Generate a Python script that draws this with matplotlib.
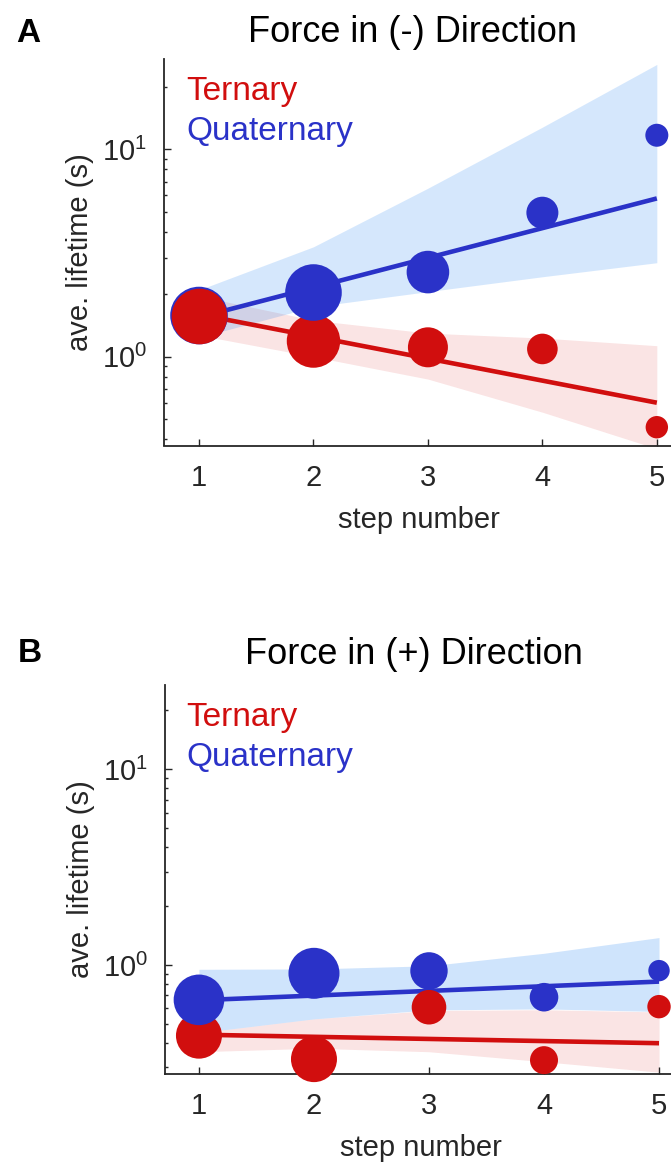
import matplotlib
matplotlib.use("Agg")
import matplotlib.pyplot as plt
from matplotlib.ticker import NullFormatter, FixedLocator

plt.rcParams['font.family'] = ['Liberation Sans', 'DejaVu Sans']

W, H = 671, 1165

steps = [1, 2, 3, 4, 5]
fit_steps = [1, 5]

# force in (-) direction
tern_neg = [1.58, 1.19, 1.11, 1.09, 0.457]
quat_neg = [1.58, 2.04, 2.56, 4.95, 11.7]
tern_neg_fit = [1.60, 0.60]
quat_neg_fit = [1.55, 5.8]
tern_neg_lo = [1.27, 1.00, 0.78, 0.54, 0.36]
tern_neg_hi = [1.96, 1.50, 1.30, 1.23, 1.13]
quat_neg_lo = [1.24, 1.74, 2.06, 2.43, 2.84]
quat_neg_hi = [2.10, 3.39, 6.5, 12.8, 25.7]
tern_neg_r = [27.8, 26.7, 20, 15.3, 11.2]
quat_neg_r = [28.8, 28.3, 21.3, 16, 11.5]

# force in (+) direction
tern_pos = [0.435, 0.33, 0.608, 0.326, 0.612]
quat_pos = [0.663, 0.906, 0.932, 0.684, 0.935]
tern_pos_fit = [0.44, 0.398]
quat_pos_fit = [0.66, 0.822]
tern_pos_lo = [0.36, 0.375, 0.36, 0.32, 0.283]
tern_pos_hi = [0.45, 0.53, 0.585, 0.59, 0.575]
quat_pos_lo = [0.45, 0.53, 0.589, 0.596, 0.578]
quat_pos_hi = [0.95, 0.954, 0.99, 1.147, 1.38]
tern_pos_r = [23, 23, 17.3, 14, 11.7]
quat_pos_r = [25.3, 25.5, 18.7, 14.3, 10.7]

RED = '#d10e0e'
BLUE = '#2a32c8'
DARK = '#262626'


def msize(r):
    # radius in pixels -> scatter area in pt^2
    return [(2 * v * 0.72) ** 2 for v in r]


def px_ax(fig, l, t, r, b):
    return fig.add_axes([l / W, 1 - b / H, (r - l) / W, (b - t) / H])


def panel(ax, tern, quat, tfit, qfit, tlo, thi, qlo, qhi, tr, qr, xlim, ylim,
          band_alpha=0.19, shared_first=False):
    ax.fill_between(steps, tlo, thi, color=(0.86, 0.1, 0.1), alpha=0.118, lw=0, zorder=1)
    ax.fill_between(steps, qlo, qhi, color=(0.0, 0.45, 0.95), alpha=band_alpha, lw=0, zorder=1)
    ax.plot(fit_steps, tfit, color=RED, lw=3.3, zorder=2, solid_capstyle='butt')
    ax.plot(fit_steps, qfit, color=BLUE, lw=3.3, zorder=2, solid_capstyle='butt')
    ax.scatter(steps, tern, s=msize(tr), color=RED, lw=0, zorder=3, clip_on=False)
    ax.scatter(steps, quat, s=msize(qr), color=BLUE, lw=0, zorder=4, clip_on=False)
    if shared_first:
        # both series start from the same point; ternary sits on top
        ax.scatter(steps[:1], tern[:1], s=msize(tr[:1]), color=RED, lw=0, zorder=5, clip_on=False)

    ax.set_yscale('log')
    ax.set_xlim(*xlim)
    ax.set_ylim(*ylim)
    ax.xaxis.set_major_locator(FixedLocator(steps))
    ax.yaxis.set_minor_formatter(NullFormatter())
    for s in ['top', 'right']:
        ax.spines[s].set_visible(False)
    for s in ['left', 'bottom']:
        ax.spines[s].set_color(DARK)
        ax.spines[s].set_linewidth(1.3)
    ax.tick_params(which='both', direction='in', color=DARK, labelcolor=DARK, width=1.0)
    ax.tick_params(which='major', length=4.8, labelsize=21)
    ax.tick_params(which='minor', length=2.4)
    ax.tick_params(axis='x', pad=13)
    ax.tick_params(axis='y', pad=12)
    ax.set_xlabel('step number', fontsize=21, color=DARK, va='center')
    ax.set_ylabel('ave. lifetime (s)', fontsize=21, color=DARK, va='center')


fig = plt.figure(figsize=(W / 100, H / 100), dpi=100)

ax1 = px_ax(fig, 164, 59.3, 674, 445.5)
panel(ax1, tern_neg, quat_neg, tern_neg_fit, quat_neg_fit,
      tern_neg_lo, tern_neg_hi, quat_neg_lo, quat_neg_hi,
      tern_neg_r, quat_neg_r, (0.694, 5.15), (0.373, 27.2),
      band_alpha=0.165, shared_first=True)

ax2 = px_ax(fig, 164.8, 685, 678, 1074)
panel(ax2, tern_pos, quat_pos, tern_pos_fit, quat_pos_fit,
      tern_pos_lo, tern_pos_hi, quat_pos_lo, quat_pos_hi,
      tern_pos_r, quat_pos_r, (0.703, 5.165), (0.277, 26.97))

for ax, top, bottom, width in [(ax1, 59.3, 445.5, 510), (ax2, 685, 1074, 513.2)]:
    h = bottom - top
    ax.xaxis.set_label_coords(0.5, -74 / h)
    ax.yaxis.set_label_coords(-84 / width, 0.5)
    # legend as coloured text
    fig.text(186 / W, 1 - (top + 40.7) / H, 'Ternary', color=RED, fontsize=24, va='baseline')
    fig.text(186 / W, 1 - (top + 80.7) / H, 'Quaternary', color=BLUE, fontsize=24, va='baseline')

fig.text(413 / W, 1 - 32 / H, 'Force in (-) Direction', fontsize=26, ha='center', va='center')
fig.text(414 / W, 1 - 654 / H, 'Force in (+) Direction', fontsize=26, ha='center', va='center')
fig.text(28 / W, 1 - 33 / H, 'A', fontsize=24, fontweight='bold', ha='center', va='center')
fig.text(30 / W, 1 - 654 / H, 'B', fontsize=24, fontweight='bold', ha='center', va='center')

fig.savefig('out.png', dpi=100)
